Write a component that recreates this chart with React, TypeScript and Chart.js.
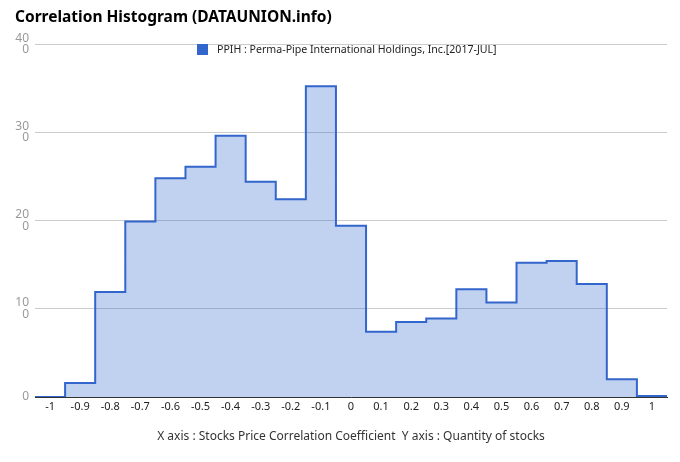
import React, { useEffect, useRef } from 'react';
import { Chart, registerables } from 'chart.js';

Chart.register(...registerables);

const categories = [-1, -0.9, -0.8, -0.7, -0.6, -0.5, -0.4, -0.3, -0.2, -0.1, 0, 0.1, 0.2, 0.3, 0.4, 0.5, 0.6, 0.7, 0.8, 0.9, 1];
const tickLabels = ['-1', '-0.9', '-0.8', '-0.7', '-0.6', '-0.5', '-0.4', '-0.3', '-0.2', '-0.1', '0', '0.1', '0.2', '0.3', '0.4', '0.5', '0.6', '0.7', '0.8', '0.9', '1'];
const seriesValues = [0, 16, 119, 199, 248, 261, 296, 244, 224, 352, 194, 74, 85, 89, 122, 107, 152, 154, 128, 20, 1];
const yTickValues = [0, 100, 200, 300, 400];
const seriesLabel = 'PPIH : Perma-Pipe International Holdings, Inc.[2017-JUL]';
const titleText = 'Correlation Histogram (DATAUNION.info)';
const xAxisTitle = 'X axis : Stocks Price Correlation Coefficient  Y axis : Quantity of stocks';

const FONT = '"Noto Sans", sans-serif';

const legendPlugin = {
  id: 'inlineLegend',
  afterDatasetsDraw(chart: any) {
    const ctx = chart.ctx as CanvasRenderingContext2D;
    const label = chart.data.datasets[0].label as string;
    ctx.save();
    ctx.font = '10.6px ' + FONT;
    const tw = ctx.measureText(label).width;
    const box = 11;
    const gap = 9;
    const total = box + gap + tw;
    const cx = (chart.chartArea.left + chart.chartArea.right) / 2 - 4;
    const x0 = Math.round(cx - total / 2);
    const y0 = chart.chartArea.top;
    ctx.fillStyle = '#3366cc';
    ctx.fillRect(x0, y0, box, box);
    ctx.fillStyle = '#222222';
    ctx.textBaseline = 'middle';
    ctx.textAlign = 'left';
    ctx.fillText(label, x0 + box + gap, y0 + box / 2 + 0.5);
    ctx.restore();
  },
};

export default function App() {
  const canvasRef = useRef<HTMLCanvasElement | null>(null);

  useEffect(() => {
    if (!canvasRef.current) return;
    const half = (categories[1] - categories[0]) / 2;
    const points = [
      { x: categories[0] - half, y: seriesValues[0] },
      ...categories.map((c, i) => ({ x: c, y: seriesValues[i] })),
      { x: categories[categories.length - 1] + half, y: seriesValues[seriesValues.length - 1] },
    ];
    const chart = new Chart(canvasRef.current, {
      type: 'line',
      data: {
        datasets: [
          {
            label: seriesLabel,
            data: points,
            stepped: 'middle',
            fill: 'origin',
            borderColor: '#3366cc',
            backgroundColor: 'rgba(51,102,204,0.3)',
            borderWidth: 2,
            pointRadius: 0,
            pointHoverRadius: 0,
          },
        ],
      },
      options: {
        animation: false,
        responsive: true,
        maintainAspectRatio: false,
        layout: { padding: { left: 15, right: 13, top: 0, bottom: 0 } },
        plugins: {
          legend: { display: false },
          tooltip: { enabled: false },
          title: {
            display: true,
            text: titleText,
            align: 'start',
            color: '#000000',
            font: { family: FONT, size: 15.5, weight: 'bold' },
            padding: { top: 8, bottom: 17.4 },
          },
        },
        scales: {
          x: {
            type: 'linear',
            min: categories[0] - half,
            max: categories[categories.length - 1] + half,
            afterBuildTicks: (scale: any) => {
              scale.ticks = categories.map((v) => ({ value: v }));
            },
            afterFit: (scale: any) => {
              scale.height = 65;
            },
            grid: { display: false, drawTicks: false },
            border: { display: true, color: '#333333', width: 1 },
            ticks: {
              padding: 3,
              color: '#222222',
              font: { family: FONT, size: 11 },
              maxRotation: 0,
              autoSkip: false,
              callback: (v: any) => {
                const idx = categories.findIndex((c) => Math.abs(c - Number(v)) < 1e-9);
                return idx >= 0 ? tickLabels[idx] : '';
              },
            },
            title: {
              display: true,
              text: xAxisTitle,
              color: '#333333',
              font: { family: FONT, size: 12 },
              padding: { top: 4, bottom: 18 },
            },
          },
          y: {
            type: 'linear',
            min: yTickValues[0],
            max: yTickValues[yTickValues.length - 1],
            afterBuildTicks: (scale: any) => {
              scale.ticks = yTickValues.map((v) => ({ value: v }));
            },
            afterFit: (scale: any) => {
              scale.width = 20;
            },
            grid: { color: '#cccccc', drawTicks: false },
            border: { display: false },
            ticks: {
              padding: 6,
              color: '#999999',
              font: { family: FONT, size: 12, lineHeight: 0.96 },
              callback: (v: any) => {
                const s = String(v);
                return s.length > 2 ? [s.slice(0, 2), s.slice(2)] : s;
              },
            },
          },
        },
      },
      plugins: [legendPlugin],
    });
    return () => chart.destroy();
  }, []);

  return (
    <div style={{ position: 'fixed', left: 0, top: 0, width: 680, height: 462, background: '#fff' }}>
      <canvas ref={canvasRef} />
    </div>
  );
}
